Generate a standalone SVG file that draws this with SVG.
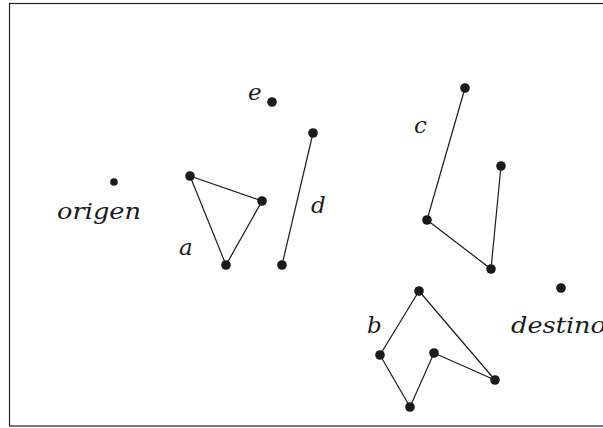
<svg xmlns="http://www.w3.org/2000/svg" width="603" height="428" viewBox="0 0 603 428">
<style>
.lbl{font-family:"DejaVu Serif","Liberation Serif",serif;font-style:italic;font-size:23px;fill:#1a1a1a}
.dot{fill:#1a1a1a}
.edge{stroke:#1a1a1a;stroke-width:1.2;fill:none}
</style>
<rect x="0" y="0" width="603" height="428" fill="#fff"/>
<rect x="9.5" y="3.5" width="600" height="422.5" fill="none" stroke="#222" stroke-width="1.2"/>
<g id="connectors">
<polyline class="edge" points="190,176 262,201 226,265 190,176"/>
<line class="edge" x1="313" y1="133" x2="282" y2="265"/>
<polyline class="edge" points="465,88 427,220 491,269 501,166"/>
<polyline class="edge" points="419,291 380,355 410,407 434,353 495,380 419,291"/>
</g>
<g id="origen"><circle class="dot" cx="114" cy="182" r="3.8"/><text class="lbl" x="57" y="219" textLength="84" lengthAdjust="spacingAndGlyphs">origen</text></g>
<g id="destino"><circle class="dot" cx="561" cy="288" r="4.8"/><text class="lbl" x="511" y="333" textLength="95" lengthAdjust="spacingAndGlyphs">destino</text></g>
<g id="e"><circle class="dot" cx="272" cy="102" r="4.8"/><text class="lbl" x="248" y="100">e</text></g>
<g id="a">
<circle class="dot" cx="190" cy="176" r="4.8"/><circle class="dot" cx="262" cy="201" r="4.8"/><circle class="dot" cx="226" cy="265" r="4.8"/>
<text class="lbl" x="179" y="255">a</text></g>
<g id="d">
<circle class="dot" cx="313" cy="133" r="4.8"/><circle class="dot" cx="282" cy="265" r="4.8"/>
<text class="lbl" x="311" y="213">d</text></g>
<g id="c">
<circle class="dot" cx="465" cy="88" r="4.8"/><circle class="dot" cx="427" cy="220" r="4.8"/><circle class="dot" cx="491" cy="269" r="4.8"/><circle class="dot" cx="501" cy="166" r="4.8"/>
<text class="lbl" x="414" y="133">c</text></g>
<g id="b">
<circle class="dot" cx="419" cy="291" r="4.8"/><circle class="dot" cx="380" cy="355" r="4.8"/><circle class="dot" cx="410" cy="407" r="4.8"/><circle class="dot" cx="434" cy="353" r="4.8"/><circle class="dot" cx="495" cy="380" r="4.8"/>
<text class="lbl" x="367" y="333">b</text></g>
</svg>
